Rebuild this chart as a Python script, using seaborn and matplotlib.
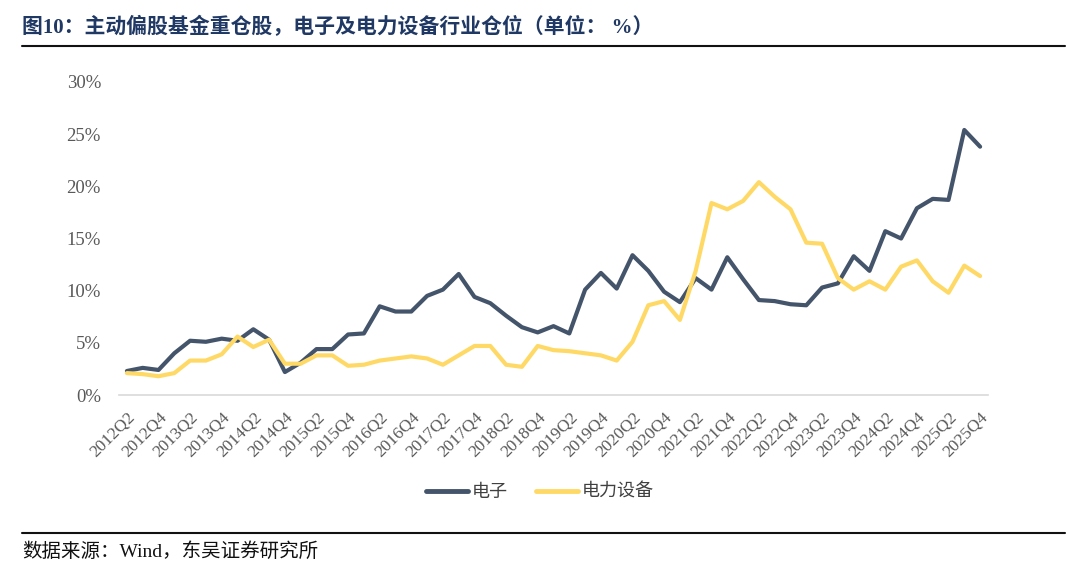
import matplotlib
matplotlib.use('Agg')
import matplotlib.pyplot as plt
from matplotlib.lines import Line2D
import pandas as pd
import seaborn as sns

# quarters 2012Q2 .. 2025Q4
quarters = [f'{y}Q{q}' for y in range(2012, 2026) for q in range(1, 5)][1:]

# 电子 (%)
electronics = [2.3, 2.6, 2.4, 4.0, 5.2, 5.1, 5.4, 5.2, 6.3, 5.3,
               2.2, 3.1, 4.4, 4.4, 5.8, 5.9, 8.5, 8.0, 8.0, 9.5,
               10.1, 11.6, 9.4, 8.8, 7.6, 6.5, 6.0, 6.6, 5.9, 10.1,
               11.7, 10.2, 13.4, 11.9, 9.9, 8.9, 11.2, 10.1, 13.2, 11.1,
               9.1, 9.0, 8.7, 8.6, 10.3, 10.7, 13.3, 11.9, 15.7, 15.0,
               17.9, 18.8, 18.7, 25.4, 23.8]

# 电力设备 (%)
power_equip = [2.1, 2.0, 1.8, 2.1, 3.3, 3.3, 3.9, 5.6, 4.6, 5.3,
               3.0, 3.0, 3.8, 3.8, 2.8, 2.9, 3.3, 3.5, 3.7, 3.5,
               2.9, 3.8, 4.7, 4.7, 2.9, 2.7, 4.7, 4.3, 4.2, 4.0,
               3.8, 3.3, 5.1, 8.6, 9.0, 7.2, 11.9, 18.4, 17.8, 18.6,
               20.4, 19.0, 17.8, 14.6, 14.5, 11.2, 10.1, 10.9, 10.1, 12.3,
               12.9, 10.9, 9.8, 12.4, 11.4]

series_names = ['电子', '电力设备']
colors = {'电子': '#44546A', '电力设备': '#FFD966'}

df = pd.concat([
    pd.DataFrame({'idx': range(len(quarters)), 'value': electronics, 'series': series_names[0]}),
    pd.DataFrame({'idx': range(len(quarters)), 'value': power_equip, 'series': series_names[1]}),
])

sns.set_theme(style='white')
cjk = ['Noto Sans CJK SC', 'DejaVu Sans']
serif = ['Liberation Serif', 'DejaVu Serif']
mixed = ['Liberation Serif', 'Noto Sans CJK SC', 'DejaVu Sans']
plt.rcParams['font.family'] = cjk

fig = plt.figure(figsize=(10.8, 5.67), dpi=100)
ax = fig.add_axes([119 / 1080, 1 - 395 / 567, (988 - 119) / 1080, (395 - 82) / 567])

sns.lineplot(data=df, x='idx', y='value', hue='series', palette=colors,
             linewidth=3.0, ax=ax, legend=False, sort=False)

ax.set_xlim(-0.5, len(quarters) - 0.5)
ax.set_ylim(0, 30)
ax.set_yticks([0, 5, 10, 15, 20, 25, 30])
ax.set_yticklabels([f'{v}%' for v in [0, 5, 10, 15, 20, 25, 30]],
                   family=serif, fontsize=13.5, color='#595959')
ax.set_xticks(range(0, len(quarters), 2))
ax.set_xticklabels(quarters[::2], rotation=45, ha='right', rotation_mode='anchor',
                   family=serif, fontsize=12.5, color='#595959')
ax.tick_params(axis='both', length=0)
ax.tick_params(axis='x', pad=10)
ax.tick_params(axis='y', pad=13)
ax.set_xlabel('')
ax.set_ylabel('')
for s in ['top', 'right', 'left']:
    ax.spines[s].set_visible(False)
ax.spines['bottom'].set_color('#D9D9D9')
ax.spines['bottom'].set_linewidth(1.2)

handles = [Line2D([], [], color=colors[n], lw=3.5, solid_capstyle='round') for n in series_names]
fig.legend(handles, series_names, loc='center', bbox_to_anchor=(0.5, 1 - 492 / 567),
           ncol=2, frameon=False, handlelength=2.3, columnspacing=1.6, handletextpad=0.2,
           prop={'family': cjk, 'size': 13}, labelcolor='#404040')

fig.text(22 / 1080, 1 - 27 / 567, '图10：主动偏股基金重仓股，电子及电力设备行业仓位（单位： %）',
         fontsize=15, fontweight='bold', color='#1F3864', va='center', ha='left', family=mixed)
fig.add_artist(Line2D([22 / 1080, 1065 / 1080], [1 - 46 / 567] * 2, color='#111111', lw=1.5))
fig.add_artist(Line2D([22 / 1080, 1065 / 1080], [1 - 533 / 567] * 2, color='#111111', lw=1.5))
fig.text(22 / 1080, 1 - 552 / 567, '数据来源：Wind，东吴证券研究所',
         fontsize=14, color='#111111', va='center', ha='left', family=mixed)

fig.savefig('out.png', dpi=100)
